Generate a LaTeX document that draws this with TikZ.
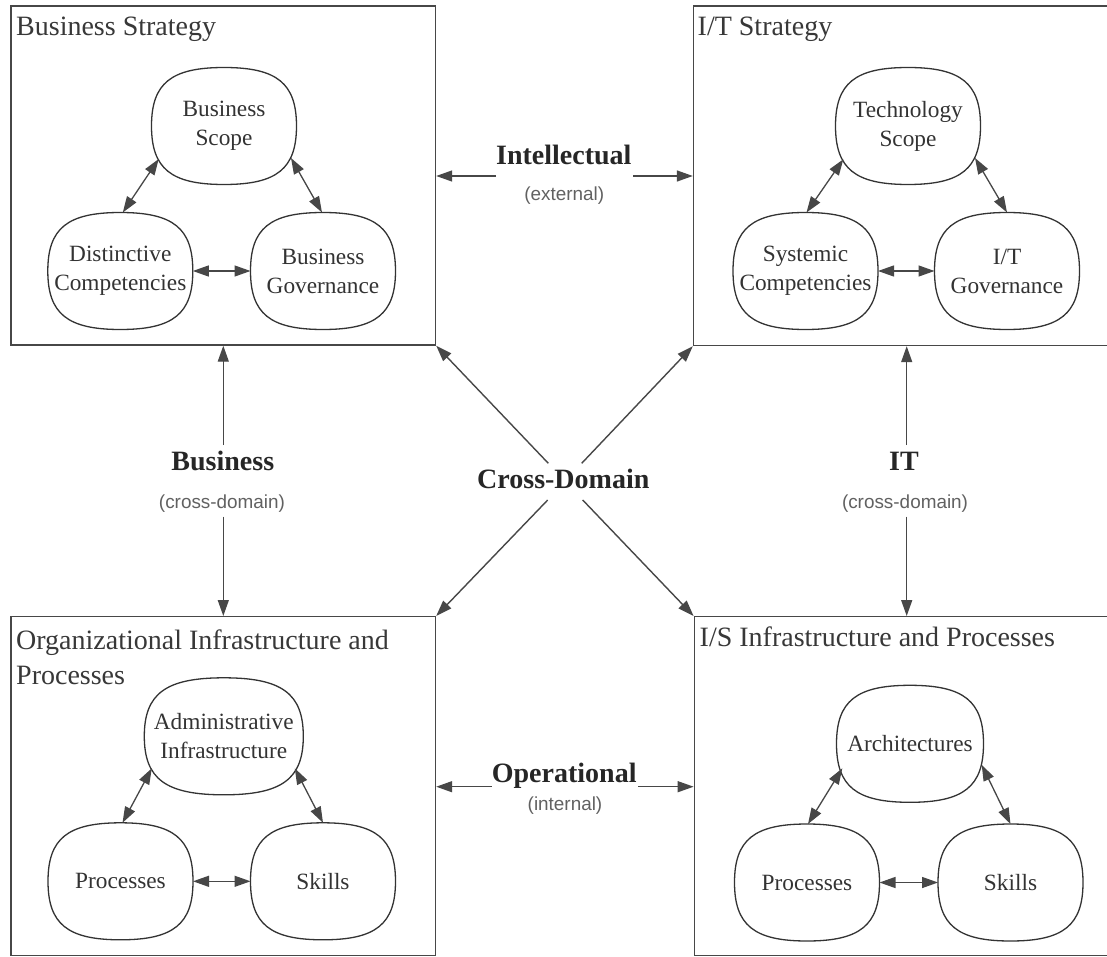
\documentclass[tikz,border=0pt]{standalone}
\usepackage{fontspec}
\setmainfont{Liberation Serif}
\newfontfamily\sansfam{Liberation Sans}
\usetikzlibrary{arrows.meta,calc}
\begin{document}
\begin{tikzpicture}[x=1pt,y=-1pt,
  lin/.style={draw=black!72, line width=1.4pt},
  box/.style={lin, rectangle, inner sep=0pt},
  bubble/.style={outer sep=0pt, minimum width=145pt, minimum height=117pt, align=center, font=\fontsize{23.3}{29}\selectfont, text=black!80, inner sep=4pt},
  bubbleline/.style={draw=black!80, line width=1.3pt},
  title/.style={anchor=base west, inner sep=0pt, font=\fontsize{28}{34.4}\selectfont, text=black!78, align=left},
  biglab/.style={anchor=base, inner sep=0pt, font=\fontsize{28}{34}\selectfont\bfseries, text=black!85},
  smalllab/.style={inner sep=0pt, font=\sansfam\fontsize{18.9}{22}\selectfont, text=black!62},
  dbl/.style={lin, line width=1.3pt, {Triangle[length=16pt,width=11pt]}-{Triangle[length=16pt,width=11pt]}},
  sgl/.style={lin, -{Triangle[length=16pt,width=11pt]}},
]
\clip (0,0) rectangle (1107,957);
\fill[white] (0,0) rectangle (1107,957);

% domain boxes
\node[box, minimum width=424.5pt, minimum height=339pt] (TL) at (223.25,175.5) {};
\node[box, minimum width=422pt, minimum height=339.5pt] (TR) at (904.5,175.75) {};
\node[box, minimum width=424.5pt, minimum height=338.8pt] (BL) at (223.25,786.1) {};
\node[box, minimum width=421pt, minimum height=338.8pt] (BR) at (904.8,786.1) {};

% titles
\node[title] (tTL) at (16,36) {Business Strategy};
\node[title] (tTR) at (697.5,36) {I/T Strategy};
\node[title, anchor=north west] (tBL) at (16,630) {Organizational Infrastructure and\\Processes};
\node[title] (tBR) at (699.5,646.7) {I/S Infrastructure and Processes};

% bubbles
\node[bubble] (bs) at (224,126) {Business\\Scope};
\node[bubble] (dc) at (120.3,271) {Distinctive\\Competencies};
\node[bubble] (bg) at (323,271) {Business\\Governance};
\node[bubble] (ts) at (908,126) {Technology\\Scope};
\node[bubble] (sc) at (805.5,271) {Systemic\\Competencies};
\node[bubble] (ig) at (1007,271) {I/T\\Governance};
\node[bubble, minimum width=159pt] (ai) at (223.8,736.3) {Administrative\\Infrastructure};
\node[bubble] (pr) at (120.5,881.3) {Processes};
\node[bubble] (sk) at (323,881.3) {Skills};
\node[bubble, minimum width=147pt] (ar) at (910,743.8) {Architectures};
\node[bubble] (pr2) at (807,882.5) {Processes};
\node[bubble] (sk2) at (1010.5,882.5) {Skills};

\foreach \n in {bs,dc,bg,ts,sc,ig,ai,pr,sk,ar,pr2,sk2}{
  \draw[bubbleline] (\n.north)
    .. controls ($(\n.north)!0.73!(\n.north east)$) and ($(\n.east)!0.73!(\n.north east)$) .. (\n.east)
    .. controls ($(\n.east)!0.73!(\n.south east)$) and ($(\n.south)!0.73!(\n.south east)$) .. (\n.south)
    .. controls ($(\n.south)!0.73!(\n.south west)$) and ($(\n.west)!0.73!(\n.south west)$) .. (\n.west)
    .. controls ($(\n.west)!0.73!(\n.north west)$) and ($(\n.north)!0.73!(\n.north west)$) .. (\n.north) -- cycle;
}

% inner arrows
\draw[dbl] ($(bs.center)+(-65.3,33)$) -- ($(dc.north)+(2.5,0)$);
\draw[dbl] ($(bs.center)+(67,32)$) -- ($(bg.north)+(-1,0)$);
\draw[dbl] (dc.east) -- (bg.west);
\draw[dbl] ($(ts.center)+(-64.7,33.3)$) -- ($(sc.north)+(1,0)$);
\draw[dbl] ($(ts.center)+(67,32)$) -- (ig.north);
\draw[dbl] (sc.east) -- (ig.west);
\draw[dbl] ($(ai.center)+(-72,32)$) -- ($(pr.north)+(2,0)$);
\draw[dbl] ($(ai.center)+(71,32)$) -- (sk.north);
\draw[dbl] (pr.east) -- (sk.west);
\draw[dbl] ($(ar.center)+(-67.7,24.5)$) -- ($(pr2.north)+(1,0)$);
\draw[dbl] ($(ar.center)+(71.7,21)$) -- (sk2.north);
\draw[dbl] (pr2.east) -- (sk2.west);

% Intellectual
\node[biglab] (intel) at (563.8,165) {Intellectual};
\node[smalllab] (ext) at (564.3,195.5) {(external)};
\coordinate (iL) at (496,176);
\coordinate (iR) at (633,176);
\draw[sgl] (iL) -- (iL -| TL.east);
\draw[sgl] (iR) -- (iR -| TR.west);

% Operational
\node[biglab] (oper) at (564.2,782.7) {Operational};
\node[smalllab] (intl) at (565,805.7) {(internal)};
\coordinate (oL) at (491.7,786.7);
\coordinate (oR) at (638,786.7);
\draw[sgl] (oL) -- (oL -| BL.east);
\draw[sgl] (oR) -- (oR -| BR.west);

% Business
\node[biglab] (busl) at (222.8,470.7) {Business};
\node[smalllab] (bcd) at (222,503.7) {(cross-domain)};
\coordinate (bU) at (223.3,445);
\coordinate (bD) at (223.3,516.7);
\draw[sgl] (bU) -- (bU |- TL.south);
\draw[sgl] (bD) -- (bD |- BL.north);

% IT
\node[biglab] (itl) at (904,470.7) {IT};
\node[smalllab] (icd) at (905,503.7) {(cross-domain)};
\coordinate (tU) at (906.7,445);
\coordinate (tD) at (906.7,516.7);
\draw[sgl] (tU) -- (tU |- TR.south);
\draw[sgl] (tD) -- (tD |- BR.north);

% Cross-Domain
\node[biglab] (cd) at (563.3,488.3) {Cross-Domain};
\coordinate (c1) at (548.3,463.3);
\coordinate (c2) at (581.7,463.3);
\coordinate (c3) at (547.7,500);
\coordinate (c4) at (582.7,500);
\draw[sgl] (c1) -- (TL.south east);
\draw[sgl] (c2) -- (TR.south west);
\draw[sgl] (c3) -- (BL.north east);
\draw[sgl] (c4) -- (BR.north west);
\end{tikzpicture}
\end{document}
